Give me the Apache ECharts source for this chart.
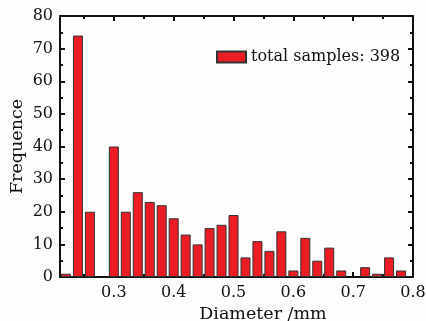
<!DOCTYPE html>
<html>
<head>
<meta charset="utf-8">
<script src="https://cdn.jsdelivr.net/npm/echarts@6/dist/echarts.min.js"></script>
<style>
  html, body { margin: 0; padding: 0; background: #fdfdfd; }
  #chart { width: 426px; height: 321px; }
</style>
</head>
<body>
<div id="chart"></div>
<script>
// bin centres (mm) and counts
var diameters = [0.22, 0.24, 0.26, 0.28, 0.30, 0.32, 0.34, 0.36, 0.38, 0.40,
                 0.42, 0.44, 0.46, 0.48, 0.50, 0.52, 0.54, 0.56, 0.58, 0.60,
                 0.62, 0.64, 0.66, 0.68, 0.70, 0.72, 0.74, 0.76, 0.78];
var counts = [1, 74, 20, 0, 40, 20, 26, 23, 22, 18,
              13, 10, 15, 16, 19, 6, 11, 8, 14, 2,
              12, 5, 9, 2, 0, 3, 1, 6, 2];
var xMajor = [0.3, 0.4, 0.5, 0.6, 0.7, 0.8];
var xMinor = [0.25, 0.35, 0.45, 0.55, 0.65, 0.75];
var seriesName = 'total samples: 398';

var font = 'DejaVu Serif';
var black = '#111';

var barData = [];
diameters.forEach(function (d, i) {
  if (counts[i] > 0) barData.push([d, counts[i]]);
});

function xAx(pos, ticks, len, withLabels) {
  return {
    type: 'value', position: pos, min: 0.21, max: 0.8,
    axisLine: { show: true, onZero: false, lineStyle: { color: black, width: 2 } },
    axisTick: { show: true, inside: true, length: len, customValues: ticks,
                lineStyle: { color: black, width: 2 } },
    axisLabel: withLabels ? { show: true, customValues: ticks, margin: 8,
                 color: black, fontFamily: font, fontSize: 16 } : { show: false },
    splitLine: { show: false }
  };
}

function yAx(pos, withLabels) {
  return {
    type: 'value', position: pos, min: 0, max: 80, interval: 10,
    axisLine: { show: true, lineStyle: { color: black, width: 2 } },
    axisTick: { show: true, inside: true, length: 5, lineStyle: { color: black, width: 2 } },
    minorTick: { show: true, splitNumber: 2, length: 3, lineStyle: { color: black, width: 2 } },
    axisLabel: withLabels ? { show: true, margin: 7, color: black, fontFamily: font, fontSize: 16 } : { show: false },
    splitLine: { show: false }
  };
}

var chart = echarts.init(document.getElementById('chart'));

var bottomMajor = xAx('bottom', xMajor, 5, true);
bottomMajor.name = 'Diameter /mm';
bottomMajor.nameLocation = 'middle';
bottomMajor.nameGap = 24;
bottomMajor.nameTextStyle = { color: black, fontFamily: font, fontSize: 17.5, padding: [0, 0, 0, 53] };

var left = yAx('left', true);
left.name = 'Frequence';
left.nameLocation = 'middle';
left.nameGap = 34;
left.nameMoveOverlap = false;
left.nameTextStyle = { color: black, fontFamily: font, fontSize: 17.5 };

var option = {
  backgroundColor: '#fdfdfd',
  animation: false,
  grid: { left: 60, right: 13, top: 16, bottom: 44, outerBoundsMode: 'none' },
  legend: {
    left: 216, top: 49, padding: 0,
    itemWidth: 29, itemHeight: 11, itemGap: 5,
    icon: 'rect',
    textStyle: { color: black, fontFamily: font, fontSize: 16 },
    data: [seriesName]
  },
  xAxis: [
    bottomMajor,
    xAx('bottom', xMinor, 3, false),
    xAx('top', xMajor, 5, false),
    xAx('top', xMinor, 3, false)
  ],
  yAxis: [left, yAx('right', false)],
  series: [{
    name: seriesName,
    type: 'bar',
    xAxisIndex: 0,
    yAxisIndex: 0,
    barWidth: 10,
    itemStyle: { color: '#ec1c24', borderColor: '#333', borderWidth: 1 },
    data: barData
  }]
};
chart.setOption(option);
</script>
</body>
</html>
